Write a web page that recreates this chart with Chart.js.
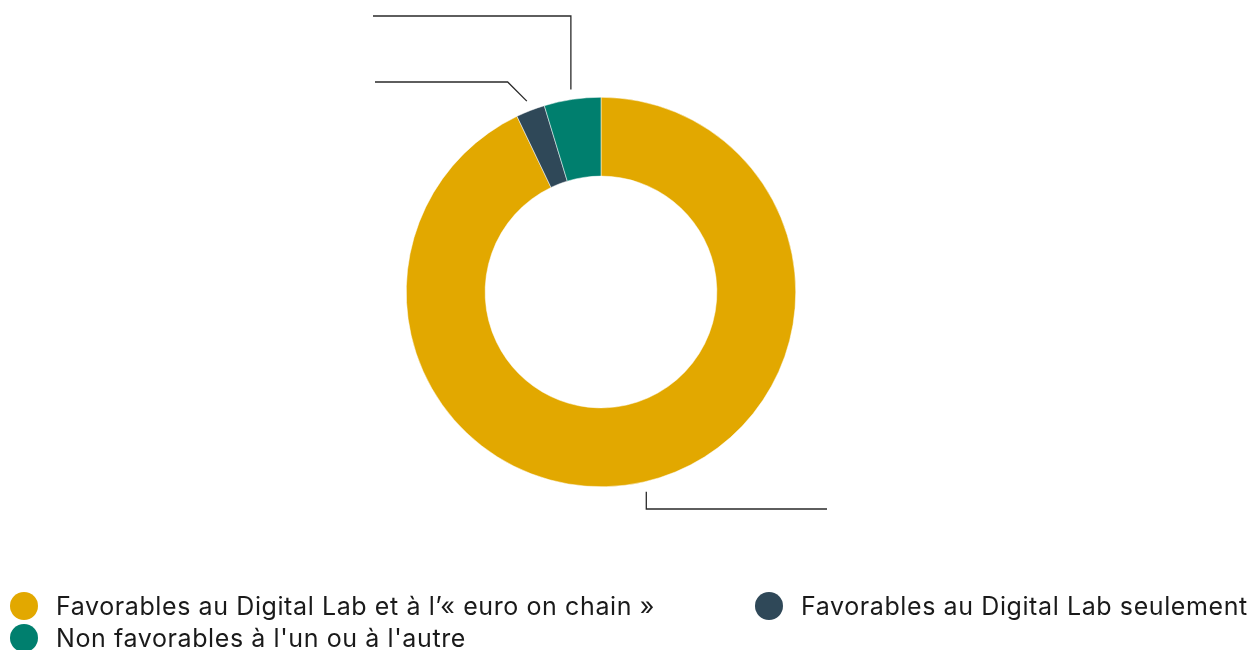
<!DOCTYPE html>
<html>
<head>
<meta charset="utf-8">
<script src="https://cdn.jsdelivr.net/npm/chart.js@4"></script>
<style>
  html, body { margin: 0; padding: 0; background: #fff; }
  #wrap { position: relative; width: 1260px; height: 650px; overflow: hidden; }
  #c { position: absolute; left: 0; top: 0; }
  #legend { position: absolute; left: 0; top: 590px; width: 1260px; font-family: Inter, Roboto, sans-serif; font-size: 25px; letter-spacing: 0.6px; color: #1a1a1a; }
  .item { position: absolute; display: flex; align-items: center; white-space: nowrap; height: 32px; }
  .dot { width: 28px; height: 28px; border-radius: 50%; margin-right: 18px; flex: none; }
</style>
</head>
<body>
<div id="wrap">
  <canvas id="c" width="1260" height="650"></canvas>
  <div id="legend"></div>
</div>
<script>
const categories = [
  "Favorables au Digital Lab et à l’« euro on chain »",
  "Favorables au Digital Lab seulement",
  "Non favorables à l'un ou à l'autre"
];
const values = [92.9, 2.4, 4.7];
const colors = ["#E2A800", "#2F4858", "#007F6E"];

// leader line shapes for each slice (kind, turn point, end x)
const leaders = [
  { kind: "vertical", turnY: 509, endX: 827 },
  { kind: "diagonal", turnY: 82, endX: 375 },
  { kind: "vertical", turnY: 16, endX: 373 }
];

const leaderPlugin = {
  id: 'leaders',
  afterDatasetsDraw(chart) {
    const ctx = chart.ctx;
    const meta = chart.getDatasetMeta(0);
    ctx.save();
    ctx.strokeStyle = '#2a2a2a';
    ctx.lineWidth = 1.3;
    meta.data.forEach((arc, i) => {
      const L = leaders[i];
      if (!L) return;
      const mid = (arc.startAngle + arc.endAngle) / 2;
      const r = arc.outerRadius + 10;
      const x0 = arc.x + Math.cos(mid) * r;
      const y0 = arc.y + Math.sin(mid) * r;
      ctx.beginPath();
      ctx.moveTo(x0, y0);
      let x1, y1;
      if (L.kind === 'vertical') {
        x1 = x0; y1 = L.turnY;
      } else {
        const d = y0 - L.turnY;
        x1 = x0 - d; y1 = L.turnY;
      }
      ctx.lineTo(x1, y1);
      ctx.lineTo(L.endX, y1);
      ctx.stroke();
    });
    ctx.restore();
  }
};

new Chart(document.getElementById('c'), {
  type: 'doughnut',
  data: {
    labels: categories,
    datasets: [{
      data: values,
      backgroundColor: colors,
      borderColor: '#ffffff',
      borderWidth: 0.5,
      hoverOffset: 0
    }]
  },
  options: {
    responsive: false,
    animation: false,
    cutout: '59.5%',
    layout: { padding: { left: 0, right: 58, top: 97, bottom: 163 } },
    plugins: {
      legend: { display: false },
      tooltip: { enabled: false }
    }
  },
  plugins: [leaderPlugin]
});

// HTML legend built from the same arrays (two columns)
const legendEl = document.getElementById('legend');
const positions = [[10, 0], [755, 0], [10, 32]];
categories.forEach((lab, i) => {
  const it = document.createElement('div');
  it.className = 'item';
  it.style.left = positions[i][0] + 'px';
  it.style.top = positions[i][1] + 'px';
  const d = document.createElement('span');
  d.className = 'dot';
  d.style.background = colors[i];
  const t = document.createElement('span');
  t.textContent = lab;
  it.appendChild(d); it.appendChild(t);
  legendEl.appendChild(it);
});
</script>
</body>
</html>
